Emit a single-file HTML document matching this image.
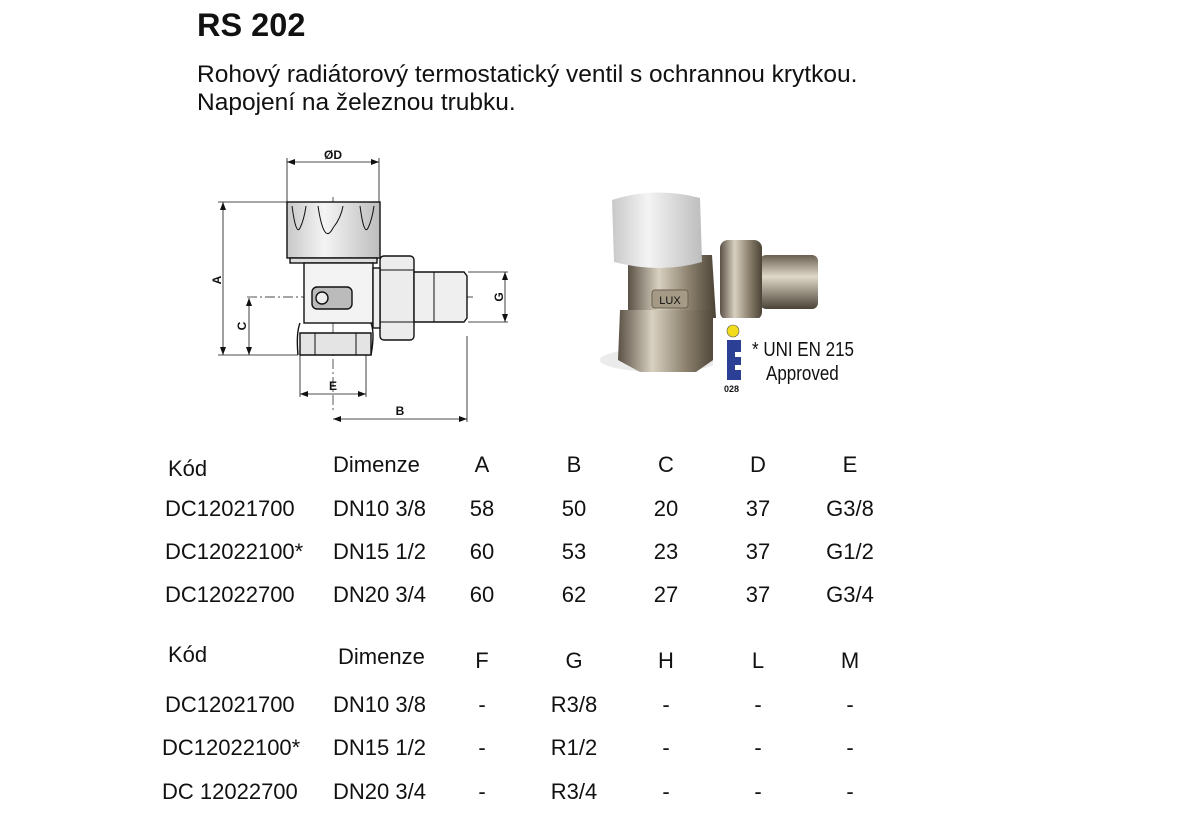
<!DOCTYPE html>
<html><head><meta charset="utf-8"><style>
html,body{margin:0;padding:0;background:#fff;}
svg{display:block}
text{font-family:"Liberation Sans",sans-serif;fill:#111}
</style></head><body>
<svg width="1181" height="835" viewBox="0 0 1181 835" xmlns="http://www.w3.org/2000/svg">
<defs>
<marker id="ar" markerWidth="8" markerHeight="6" refX="8" refY="3" orient="auto-start-reverse" markerUnits="userSpaceOnUse"><path d="M0,0 L8,3 L0,6 z" fill="#111"/></marker>
<linearGradient id="cap" x1="0" x2="1"><stop offset="0" stop-color="#c8c8c8"/><stop offset=".4" stop-color="#f4f4f4"/><stop offset="1" stop-color="#bdbdbd"/></linearGradient>
<linearGradient id="brass" x1="0" x2="1"><stop offset="0" stop-color="#5b5246"/><stop offset=".35" stop-color="#d8d0c0"/><stop offset=".7" stop-color="#8a7f6c"/><stop offset="1" stop-color="#4b4336"/></linearGradient>
<linearGradient id="brassv" x1="0" y1="0" x2="0" y2="1"><stop offset="0" stop-color="#6a5f50"/><stop offset=".4" stop-color="#e0d8c8"/><stop offset="1" stop-color="#4b4336"/></linearGradient>
</defs>

<text x="197" y="36" font-size="32.5" font-weight="bold">RS 202</text>
<text x="197" y="82" font-size="24.5">Rohový radiátorový termostatický ventil s ochrannou krytkou.</text>
<text x="197" y="110" font-size="24.5">Napojení na železnou trubku.</text>

<g stroke="#111" fill="none" stroke-width="1.2">
 <line x1="287" y1="158" x2="287" y2="202" stroke-width=".8"/>
 <line x1="379" y1="158" x2="379" y2="202" stroke-width=".8"/>
 <line x1="287" y1="162" x2="379" y2="162" marker-start="url(#ar)" marker-end="url(#ar)" stroke-width=".8"/>
 <line x1="218" y1="202" x2="287" y2="202" stroke-width=".8"/>
 <line x1="218" y1="355" x2="298" y2="355" stroke-width=".8"/>
 <line x1="223" y1="202" x2="223" y2="355" marker-start="url(#ar)" marker-end="url(#ar)" stroke-width=".8"/>
 <line x1="247" y1="297" x2="475" y2="297" stroke-width=".7" stroke-dasharray="10,3,2,3"/>
 <line x1="249" y1="298" x2="249" y2="355" marker-start="url(#ar)" marker-end="url(#ar)" stroke-width=".8"/>
 <line x1="333" y1="197" x2="333" y2="410" stroke-width=".7" stroke-dasharray="10,3,2,3"/>
 <line x1="468" y1="272" x2="508" y2="272" stroke-width=".8"/>
 <line x1="468" y1="322" x2="508" y2="322" stroke-width=".8"/>
 <line x1="505" y1="272" x2="505" y2="322" marker-start="url(#ar)" marker-end="url(#ar)" stroke-width=".8"/>
 <line x1="300" y1="355" x2="300" y2="397" stroke-width=".8"/>
 <line x1="366" y1="355" x2="366" y2="397" stroke-width=".8"/>
 <line x1="300" y1="394" x2="366" y2="394" marker-start="url(#ar)" marker-end="url(#ar)" stroke-width=".8"/>
 <line x1="467" y1="336" x2="467" y2="422" stroke-width=".8"/>
 <line x1="333" y1="419" x2="467" y2="419" marker-start="url(#ar)" marker-end="url(#ar)" stroke-width=".8"/>
</g>
<g stroke="#111" stroke-width="1.4">
 <rect x="287" y="202" width="93" height="56" fill="url(#cap)"/>
 <rect x="290" y="258" width="87" height="5" fill="#ddd"/>
 <path d="M292,206 q4,30 8,22 q4,-8 6,-22 M318,206 q6,40 15,22 q8,-10 10,-22 M360,206 q4,30 8,22 q4,-8 6,-22" fill="none" stroke-width="1"/>
 <rect x="304" y="263" width="69" height="60" fill="#f3f3f3"/>
 <rect x="312" y="287" width="40" height="22" rx="5" fill="#bbb"/>
 <circle cx="322" cy="298" r="6" fill="#eee"/>
 <path d="M300,333 L371,333 L371,355 L300,355 Z" fill="#e4e4e4"/>
 <path d="M300,323 Q296,333 298,355 M371,323 Q375,333 371,355" fill="none"/>
 <line x1="315" y1="333" x2="315" y2="355" stroke-width="1"/>
 <line x1="356" y1="333" x2="356" y2="355" stroke-width="1"/>
 <rect x="380" y="256" width="34" height="84" rx="4" fill="#ececec"/>
 <line x1="380" y1="270" x2="414" y2="270" stroke-width="1"/>
 <line x1="380" y1="322" x2="414" y2="322" stroke-width="1"/>
 <rect x="373" y="268" width="7" height="60" fill="#eee"/>
 <path d="M414,272 L464,272 L467,276 L467,318 L464,322 L414,322 Z" fill="#efefef"/>
 <line x1="434" y1="272" x2="434" y2="322" stroke-width="1"/>
</g>
<g font-weight="bold" font-size="12">
 <text x="333" y="159" text-anchor="middle">ØD</text>
 <text x="217" y="284" text-anchor="middle" transform="rotate(-90 217 280)">A</text>
 <text x="242" y="330" text-anchor="middle" transform="rotate(-90 242 326)">C</text>
 <text x="499" y="301" text-anchor="middle" transform="rotate(-90 499 297)">G</text>
 <text x="333" y="390" text-anchor="middle">E</text>
 <text x="400" y="415" text-anchor="middle">B</text>
</g>

<g>
 <ellipse cx="660" cy="360" rx="60" ry="12" fill="#ddd" opacity=".6"/>
 <rect x="760" y="255" width="58" height="54" rx="6" fill="url(#brassv)"/>
 <rect x="720" y="240" width="42" height="80" rx="8" fill="url(#brass)"/>
 <path d="M628,255 L712,255 L716,318 L628,318 Z" fill="url(#brass)"/>
 <path d="M620,310 L714,310 L716,358 L696,372 L640,372 L618,360 Z" fill="url(#brass)"/>
 <path d="M612,200 Q655,186 700,198 L702,262 Q660,274 614,262 Z" fill="url(#cap)"/>
 <rect x="652" y="290" width="36" height="18" rx="3" fill="#a59a85" stroke="#6a604f"/>
 <text x="670" y="304" font-size="11" text-anchor="middle" font-family="Liberation Serif" fill="#3a3328">LUX</text>
 <rect x="713" y="318" width="150" height="80" fill="#fff"/>
 <circle cx="733" cy="331" r="6" fill="#f2dc1c" stroke="#555" stroke-width=".6"/>
 <path d="M727,340 h14 v12 h-6 v5 h6 v8 h-6 v5 h6 v10 h-14 z" fill="#2b3f94"/>
 <text x="724" y="392" font-size="9" font-weight="bold">028</text>
 <text x="752" y="356" font-size="20" transform="scale(0.85 1)" transform-origin="752 356">* UNI EN 215</text>
 <text x="766" y="380" font-size="20" transform="scale(0.85 1)" transform-origin="766 380">Approved</text>
</g>

<g font-size="22">
 <text x="168" y="476">Kód</text>
 <text x="333" y="472">Dimenze</text>
 <text x="165" y="516">DC12021700</text>
 <text x="165" y="559">DC12022100*</text>
 <text x="165" y="602">DC12022700</text>
 <text x="333" y="516">DN10 3/8</text>
 <text x="333" y="559">DN15 1/2</text>
 <text x="333" y="602">DN20 3/4</text>
 <text x="168" y="662">Kód</text>
 <text x="338" y="664">Dimenze</text>
 <text x="165" y="712">DC12021700</text>
 <text x="162" y="755">DC12022100*</text>
 <text x="162" y="799">DC 12022700</text>
 <text x="333" y="712">DN10 3/8</text>
 <text x="333" y="755">DN15 1/2</text>
 <text x="333" y="799">DN20 3/4</text>
 <g text-anchor="middle">
 <text x="482" y="472">A</text><text x="574" y="472">B</text><text x="666" y="472">C</text><text x="758" y="472">D</text><text x="850" y="472">E</text>
 <text x="482" y="516">58</text><text x="574" y="516">50</text><text x="666" y="516">20</text><text x="758" y="516">37</text><text x="850" y="516">G3/8</text>
 <text x="482" y="559">60</text><text x="574" y="559">53</text><text x="666" y="559">23</text><text x="758" y="559">37</text><text x="850" y="559">G1/2</text>
 <text x="482" y="602">60</text><text x="574" y="602">62</text><text x="666" y="602">27</text><text x="758" y="602">37</text><text x="850" y="602">G3/4</text>
 <text x="482" y="668">F</text><text x="574" y="668">G</text><text x="666" y="668">H</text><text x="758" y="668">L</text><text x="850" y="668">M</text>
 <text x="482" y="712">-</text><text x="574" y="712">R3/8</text><text x="666" y="712">-</text><text x="758" y="712">-</text><text x="850" y="712">-</text>
 <text x="482" y="755">-</text><text x="574" y="755">R1/2</text><text x="666" y="755">-</text><text x="758" y="755">-</text><text x="850" y="755">-</text>
 <text x="482" y="799">-</text><text x="574" y="799">R3/4</text><text x="666" y="799">-</text><text x="758" y="799">-</text><text x="850" y="799">-</text>
 </g>
</g>
</svg>
</body></html>
